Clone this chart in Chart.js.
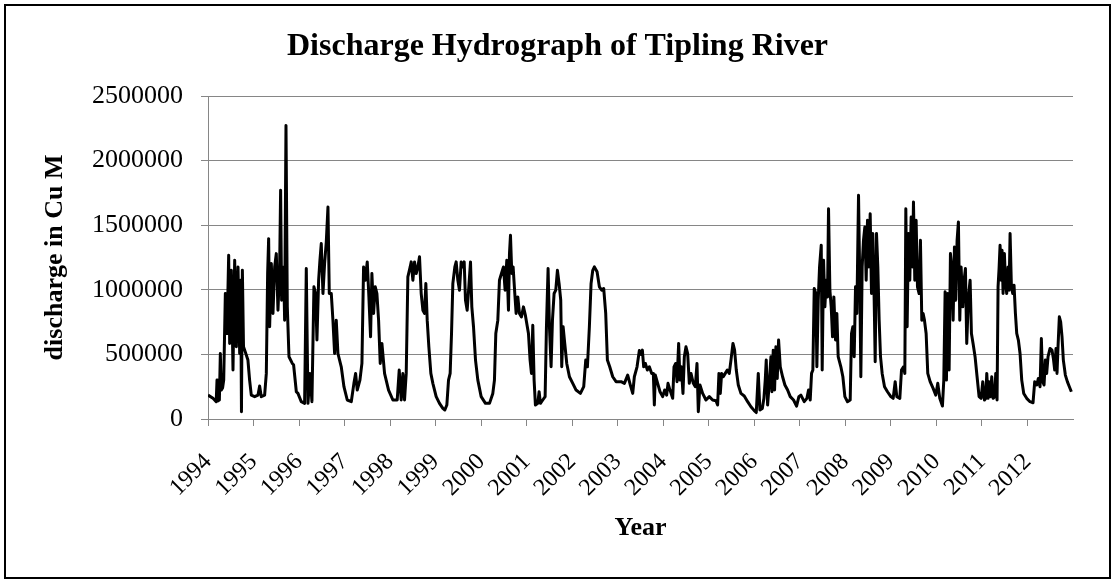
<!DOCTYPE html>
<html>
<head>
<meta charset="utf-8">
<script src="https://cdn.jsdelivr.net/npm/chart.js@4.4.0/dist/chart.umd.min.js"></script>
<style>
html,body{margin:0;padding:0;background:#fff;}
canvas{display:block;}
</style>
</head>
<body>
<canvas id="c" width="1115" height="583"></canvas>
<script>
// Tick labels of the year axis (tick value = years since 1994)
const yearLabels = ['1994','1995','1996','1997','1998','1999','2000','2001','2002','2003',
                    '2004','2005','2006','2007','2008','2009','2010','2011','2012'];

// Time of each reading, in years since 1 Jan 1994
const yearsSince1994 = [
  0.000,0.110,0.180,0.198,0.215,0.250,0.271,0.290,0.320,0.345,
  0.381,0.418,0.454,0.476,0.513,0.549,0.586,0.623,0.659,0.696,
  0.718,0.735,0.755,0.780,0.806,0.877,0.914,0.951,1.025,1.098,
  1.134,1.170,1.244,1.281,1.310,1.332,1.354,1.391,1.427,1.464,
  1.500,1.537,1.574,1.595,1.617,1.661,1.683,1.713,1.742,1.779,
  1.852,1.880,1.940,1.976,2.049,2.122,2.159,2.196,2.240,2.283,
  2.327,2.364,2.393,2.430,2.459,2.488,2.525,2.561,2.598,2.635,
  2.664,2.708,2.744,2.781,2.817,2.854,2.927,2.986,3.059,3.147,
  3.205,3.242,3.278,3.337,3.381,3.417,3.454,3.498,3.534,3.571,
  3.600,3.637,3.674,3.710,3.747,3.783,3.820,3.878,3.966,4.061,
  4.156,4.200,4.244,4.281,4.317,4.354,4.390,4.441,4.464,4.500,
  4.537,4.573,4.610,4.646,4.683,4.720,4.756,4.785,4.815,4.851,
  4.895,4.939,5.012,5.085,5.159,5.202,5.246,5.283,5.319,5.349,
  5.378,5.422,5.451,5.488,5.524,5.561,5.597,5.627,5.656,5.693,
  5.729,5.766,5.795,5.832,5.876,5.927,6.000,6.095,6.183,6.256,
  6.292,6.322,6.366,6.402,6.446,6.490,6.526,6.563,6.600,6.622,
  6.644,6.673,6.702,6.739,6.768,6.805,6.841,6.885,6.929,6.973,
  7.039,7.075,7.105,7.134,7.163,7.192,7.244,7.273,7.302,7.353,
  7.405,7.434,7.470,7.500,7.536,7.566,7.602,7.639,7.675,7.712,
  7.748,7.770,7.800,7.836,7.880,7.939,8.012,8.085,8.180,8.253,
  8.297,8.334,8.377,8.414,8.451,8.487,8.546,8.597,8.648,8.692,
  8.736,8.773,8.824,8.890,8.963,9.073,9.146,9.219,9.277,9.329,
  9.365,9.424,9.475,9.512,9.541,9.570,9.607,9.651,9.694,9.746,
  9.782,9.804,9.826,9.877,9.929,9.987,10.031,10.075,10.104,10.148,
  10.207,10.236,10.272,10.302,10.338,10.367,10.397,10.433,10.463,10.499,
  10.536,10.572,10.609,10.660,10.704,10.741,10.770,10.806,10.865,10.938,
  11.011,11.084,11.157,11.194,11.223,11.253,11.282,11.318,11.362,11.406,
  11.450,11.487,11.531,11.567,11.604,11.648,11.706,11.779,11.853,11.926,
  11.999,12.043,12.087,12.123,12.175,12.211,12.240,12.262,12.292,12.328,
  12.365,12.387,12.416,12.445,12.474,12.504,12.533,12.570,12.621,12.672,
  12.731,12.789,12.862,12.928,12.979,13.023,13.096,13.155,13.191,13.228,
  13.257,13.286,13.316,13.352,13.374,13.404,13.433,13.470,13.491,13.521,
  13.550,13.579,13.608,13.630,13.660,13.689,13.718,13.747,13.784,13.813,
  13.842,13.901,13.945,13.989,14.047,14.106,14.135,14.164,14.194,14.223,
  14.252,14.289,14.318,14.340,14.369,14.398,14.428,14.457,14.486,14.515,
  14.545,14.574,14.603,14.633,14.655,14.684,14.713,14.742,14.772,14.808,
  14.860,14.925,14.999,15.050,15.094,15.130,15.196,15.233,15.277,15.306,
  15.328,15.357,15.386,15.415,15.445,15.474,15.496,15.525,15.554,15.584,
  15.620,15.649,15.679,15.708,15.737,15.774,15.810,15.862,15.928,15.986,
  16.030,16.074,16.132,16.162,16.191,16.220,16.250,16.279,16.308,16.337,
  16.367,16.396,16.425,16.454,16.483,16.513,16.542,16.579,16.608,16.637,
  16.666,16.703,16.740,16.769,16.805,16.849,16.893,16.937,16.981,17.018,
  17.055,17.084,17.106,17.135,17.157,17.186,17.215,17.245,17.281,17.303,
  17.332,17.354,17.376,17.398,17.420,17.442,17.464,17.493,17.515,17.544,
  17.574,17.596,17.618,17.647,17.676,17.705,17.735,17.764,17.800,17.837,
  17.874,17.918,17.983,18.056,18.122,18.159,18.203,18.239,18.276,18.305,
  18.334,18.364,18.393,18.422,18.452,18.496,18.539,18.569,18.598,18.627,
  18.649,18.671,18.700,18.729,18.759,18.788,18.832,18.876,18.920,18.964
];

// Discharge (cubic metres) at each reading
const dischargeCuM = [
  185000,160000,134000,301000,140000,147000,507000,224000,240000,301000,
  971000,662000,1267000,585000,1151000,379000,1229000,559000,1177000,507000,
  1074000,57000,1151000,560000,533000,456000,301000,185000,173000,185000,
  255000,173000,185000,353000,1126000,1396000,714000,1203000,817000,1177000,
  1280000,842000,1177000,1770000,920000,1177000,765000,2272000,868000,482000,
  430000,420000,211000,198000,134000,121000,1164000,121000,353000,134000,
  1023000,971000,611000,1074000,1229000,1358000,971000,1203000,1370000,1641000,
  971000,971000,765000,507000,765000,507000,404000,250000,147000,134000,
  276000,353000,224000,301000,430000,1177000,1074000,1216000,945000,636000,
  1126000,817000,1023000,971000,765000,430000,585000,353000,224000,147000,
  147000,379000,147000,353000,147000,353000,1100000,1177000,1216000,1074000,
  1216000,1126000,1177000,1255000,971000,842000,817000,1048000,765000,559000,
  353000,276000,173000,121000,82000,70000,108000,301000,353000,662000,
  1048000,1177000,1216000,1074000,997000,1216000,1177000,1216000,920000,842000,
  1023000,1216000,868000,714000,456000,301000,173000,121000,121000,198000,
  301000,662000,765000,1074000,1126000,1177000,997000,1229000,842000,1280000,
  1422000,1126000,1177000,971000,817000,945000,817000,790000,868000,800000,
  662000,456000,353000,726000,301000,108000,121000,211000,121000,147000,
  173000,714000,1164000,714000,404000,765000,971000,997000,1151000,1048000,
  920000,404000,714000,585000,430000,327000,276000,224000,198000,250000,
  456000,404000,714000,1048000,1151000,1177000,1139000,1023000,997000,1010000,
  817000,456000,404000,327000,289000,289000,276000,340000,263000,198000,
  327000,404000,530000,500000,533000,404000,430000,379000,404000,353000,
  353000,108000,340000,276000,211000,173000,224000,185000,276000,224000,
  160000,404000,430000,289000,585000,301000,404000,198000,482000,559000,
  507000,276000,353000,276000,250000,430000,57000,263000,198000,147000,
  173000,147000,142000,108000,353000,198000,353000,327000,353000,379000,
  353000,456000,585000,533000,379000,263000,198000,178000,134000,95000,
  65000,50000,353000,70000,82000,160000,301000,456000,108000,276000,
  482000,211000,533000,224000,559000,314000,611000,404000,327000,263000,
  224000,173000,147000,100000,173000,185000,134000,160000,224000,147000,
  353000,379000,1010000,971000,404000,920000,1177000,1345000,379000,1229000,
  868000,1074000,945000,1628000,997000,868000,636000,945000,611000,817000,
  482000,404000,327000,173000,134000,147000,662000,714000,482000,1023000,
  817000,1731000,1023000,327000,1177000,1383000,1486000,1074000,1538000,1177000,
  1589000,971000,1435000,920000,443000,1435000,1177000,765000,482000,353000,
  250000,211000,173000,160000,289000,173000,160000,379000,404000,353000,
  1628000,714000,1435000,1074000,1564000,1177000,1680000,1074000,1538000,1023000,
  971000,1383000,765000,817000,765000,662000,353000,289000,237000,185000,
  276000,160000,100000,301000,984000,301000,971000,379000,1280000,1177000,
  765000,1332000,920000,1383000,1525000,765000,1177000,868000,1074000,1164000,
  585000,945000,1074000,662000,585000,482000,327000,173000,160000,289000,
  147000,160000,353000,160000,289000,173000,327000,160000,173000,353000,
  147000,1023000,1164000,1345000,1074000,1306000,971000,1280000,1074000,971000,
  1177000,997000,1435000,1023000,971000,1036000,817000,662000,611000,507000,
  301000,198000,160000,134000,126000,289000,263000,314000,250000,623000,
  289000,263000,456000,353000,482000,546000,533000,469000,379000,546000,
  353000,559000,791000,752000,636000,456000,340000,289000,250000,211000
];

const SERIF = "'Liberation Serif', 'Times New Roman', serif";
const GRID = '#868686';

const framePlugin = {
  id: 'frame',
  beforeDraw(chart) {
    const c = chart.ctx;
    c.save(); c.fillStyle = '#fff'; c.fillRect(0, 0, chart.width, chart.height); c.restore();
  },
  afterDraw(chart) {
    const c = chart.ctx;
    c.save(); c.strokeStyle = '#000'; c.lineWidth = 2;
    c.strokeRect(5, 5, chart.width - 10, chart.height - 10); c.restore();
  }
};

new Chart(document.getElementById('c'), {
  type: 'line',
  data: {
    datasets: [{
      label: 'Discharge',
      data: yearsSince1994.map((t, i) => ({ x: t, y: dischargeCuM[i] })),
      borderColor: '#000',
      borderWidth: 3,
      pointRadius: 0,
      tension: 0,
      borderJoinStyle: 'round',
      fill: false
    }]
  },
  options: {
    responsive: false,
    animation: false,
    layout: { padding: 0 },
    plugins: {
      legend: { display: false },
      tooltip: { enabled: false },
      title: {
        display: true,
        text: 'Discharge Hydrograph of Tipling River',
        color: '#000',
        font: { family: SERIF, size: 32, weight: 'bold' },
        padding: { top: 28, bottom: 29.6 }
      }
    },
    scales: {
      x: {
        type: 'linear',
        min: 0, max: 19,
        afterBuildTicks: s => { s.ticks = s.ticks.filter(t => t.value < 19); },
        afterFit: s => { s.height = 164; },
        ticks: {
          stepSize: 1, autoSkip: false, maxRotation: 45, minRotation: 45,
          color: '#000', font: { family: SERIF, size: 24 }, padding: 22,
          callback: v => yearLabels[v]
        },
        grid: { drawOnChartArea: false, drawTicks: true, tickLength: 7, color: GRID, lineWidth: 1 },
        border: { display: true, color: GRID, width: 1 },
        title: {
          display: true, text: 'Year', color: '#000',
          font: { family: SERIF, size: 26, weight: 'bold' },
          padding: { top: 0, bottom: 39 }
        }
      },
      y: {
        min: 0, max: 2500000,
        afterFit: s => { s.width = 208; },
        ticks: {
          stepSize: 500000, color: '#000', font: { family: SERIF, size: 26 }, padding: 18,
          callback: v => String(v)
        },
        grid: { color: GRID, tickLength: 7, lineWidth: 1 },
        border: { display: true, color: GRID, width: 1 },
        title: {
          display: true, text: 'discharge in Cu M', color: '#000',
          font: { family: SERIF, size: 26, weight: 'bold' },
          padding: { top: 40, bottom: 0 }
        }
      },
      rightGap: {
        type: 'linear', position: 'right', min: 0, max: 1,
        afterFit: s => { s.width = 42; },
        ticks: { display: false },
        grid: { display: false, drawTicks: false },
        border: { display: false }
      }
    }
  },
  plugins: [framePlugin]
});
</script>
</body>
</html>
